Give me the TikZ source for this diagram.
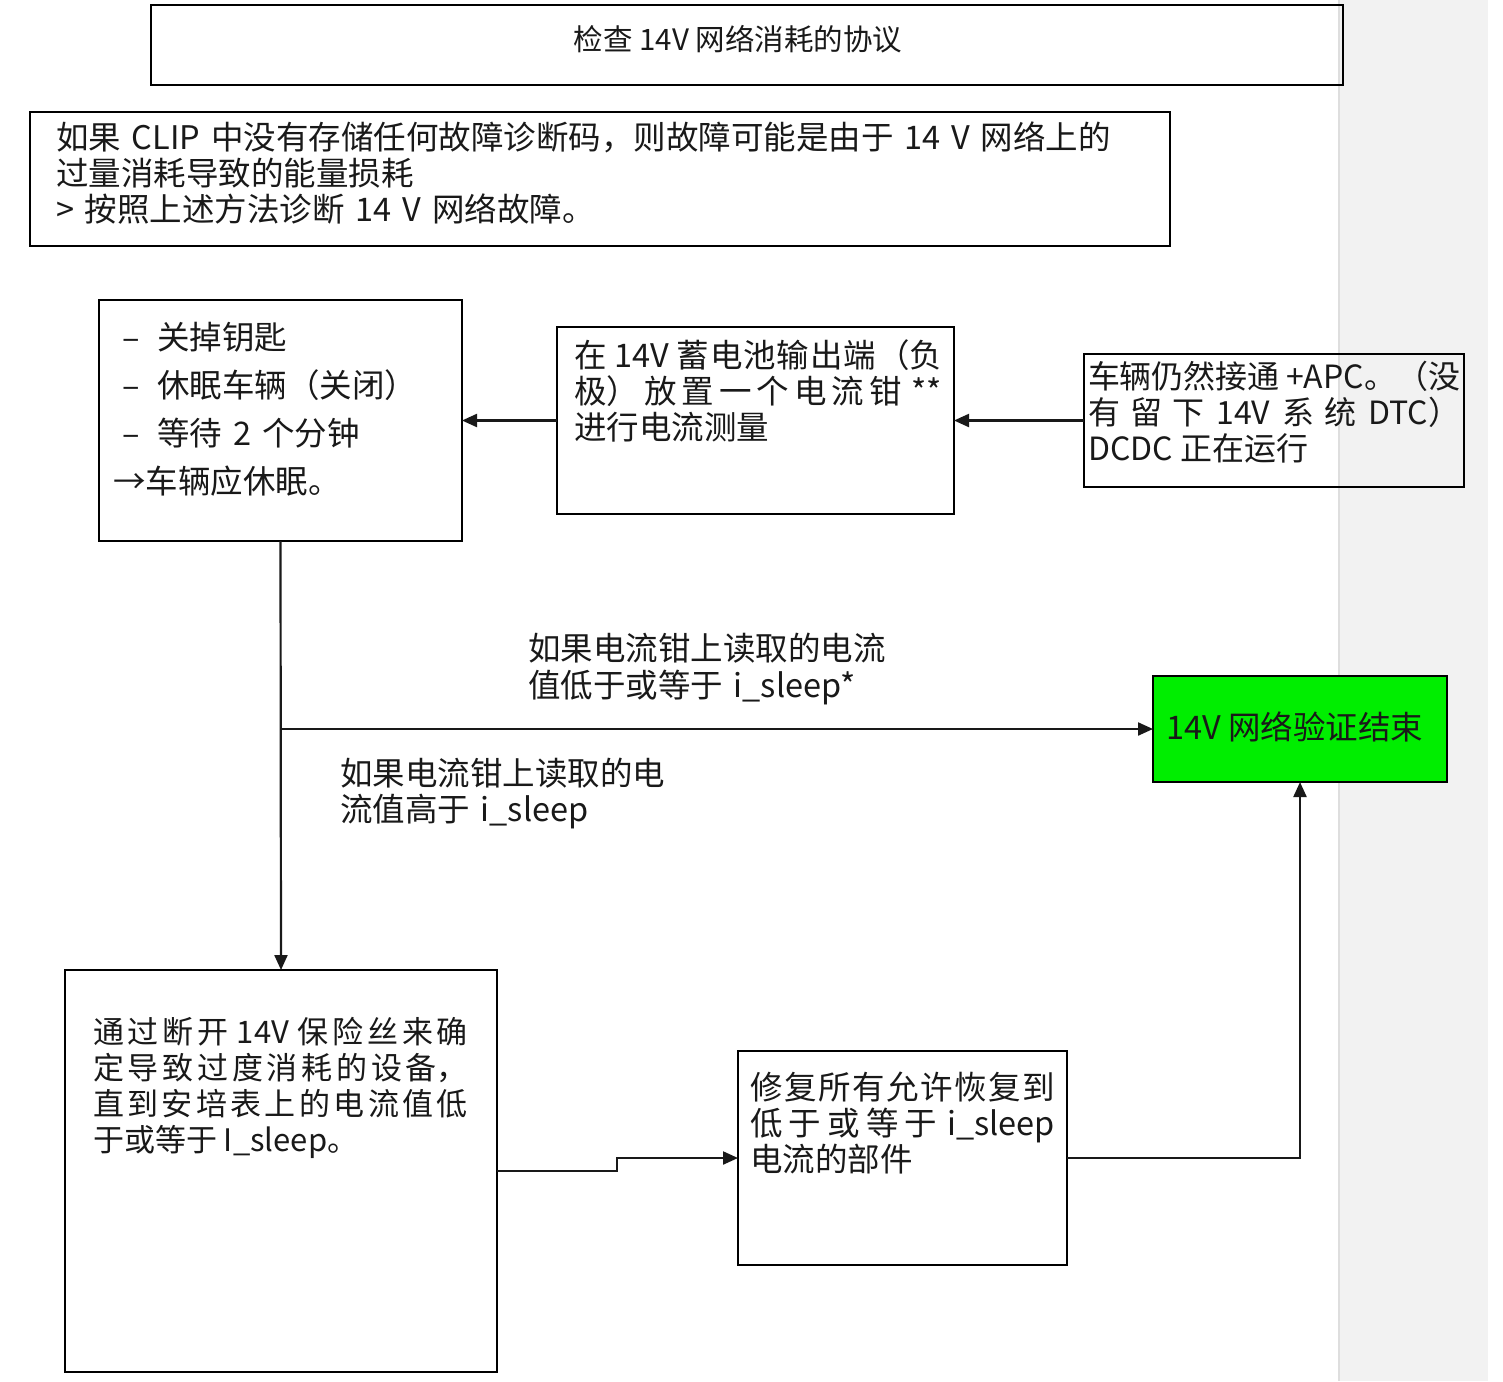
\documentclass[tikz,border=0pt]{standalone}
\usepackage{fontspec}
\setmainfont{Noto Sans CJK SC}
\usetikzlibrary{arrows.meta}
\XeTeXlinebreaklocale "zh"
\XeTeXlinebreakskip=0pt plus 8pt minus 1pt
\XeTeXlinebreakpenalty=10000
\setlength{\parindent}{0pt}
\definecolor{okgreen}{RGB}{0,238,0}
\definecolor{stripgrey}{RGB}{242,242,242}
\definecolor{stripline}{RGB}{222,222,222}
\definecolor{ink}{RGB}{25,25,25}
\begin{document}
\begin{tikzpicture}[x=1pt,y=-1pt,
  box/.style={draw=black, line width=2.5pt, anchor=north west, inner sep=0pt, outer sep=0pt},
  conn/.style={draw=black!90, line width=2.2pt, -{Triangle[length=15pt,width=13pt]}},
  ftxt/.style={anchor=base west, inner sep=0pt, outer sep=0pt, text=ink, font=\fontsize{32.5pt}{36pt}\selectfont},
  ltxt/.style={ftxt, align=left},
  jtxt/.style={ftxt, align=justify}
]
\useasboundingbox (0,0) rectangle (1503,1381);
% grey strip on the right
\fill[stripgrey] (1340,0) rectangle (1488,1381);
\draw[stripline, line width=2pt] (1339,0) -- (1339,1381);

% boxes
\node[box, minimum width=1192, minimum height=80] (T) at (151,5) {};
\node[box, minimum width=1140, minimum height=134] (I) at (30,112) {};
\node[box, minimum width=363, minimum height=241] (A) at (99,300) {};
\node[box, minimum width=397, minimum height=187] (B) at (557,327) {};
\node[box, minimum width=380, minimum height=133] (C) at (1084,354) {};
\node[box, fill=okgreen, minimum width=294, minimum height=106] (G) at (1153,676) {};
\node[box, minimum width=432, minimum height=402] (D) at (65,970) {};
\node[box, minimum width=329, minimum height=214] (E) at (738,1051) {};

% texts
\node[anchor=base, inner sep=0pt, text=ink, font=\fontsize{29.5pt}{34pt}\selectfont] (tt) at (738,51) {检查 14V 网络消耗的协议};
\node[ltxt, text width=1110pt] (it) at (56,149) {如果 CLIP 中没有存储任何故障诊断码，则故障可能是由于 14 V 网络上的\\过量消耗导致的能量损耗\\> 按照上述方法诊断 14 V 网络故障。};
\node[ltxt, text width=345pt, font=\fontsize{32.5pt}{48pt}\selectfont] (at) at (113,349) {\hspace*{9pt}–\hspace{18pt}关掉钥匙\\\hspace*{9pt}–\hspace{18pt}休眠车辆（关闭）\\\hspace*{9pt}–\hspace{18pt}等待 2 个分钟\\→车辆应休眠。};
\node[jtxt, text width=368pt] (bt) at (574,367) {在~14V~蓄电池输出端（负\linebreak 极）放置一个电流钳~**\linebreak 进行电流测量};
\node[jtxt, text width=372pt, font=\fontsize{32pt}{36pt}\selectfont] (ct) at (1088,388) {车辆仍然接通~+APC。（没\linebreak 有留下~14V~系统~DTC）\linebreak DCDC~正在运行};
\node[ftxt] (gt) at (1166,739) {14V 网络验证结束};
\node[jtxt, text width=375pt, font=\fontsize{31pt}{36pt}\selectfont] (dt) at (93,1043) {通过断开~14V~保险丝来确\linebreak 定导致过度消耗的设备，\linebreak 直到安培表上的电流值低\linebreak 于或等于~I\_sleep。};
\node[jtxt, text width=305pt] (et) at (750,1099) {修复所有允许恢复到\linebreak 低于或等于~i\_sleep\linebreak 电流的部件};
\node[ltxt, text width=420pt, font=\fontsize{32.5pt}{37pt}\selectfont] (l1) at (528,660) {如果电流钳上读取的电流\\值低于或等于 i\_sleep*};
\node[ltxt, text width=420pt] (l2) at (340,785) {如果电流钳上读取的电\\流值高于 i\_sleep};

% connectors
\draw[conn] (C.west) -- (B.east);
\draw[conn] (B.west) -- (A.east);
\draw[conn] (A.south) -- (D.north);
\coordinate (J) at (A.south |- G.west);
\draw[conn] (J) -- (G.west);
\draw[conn] (D.east) -- ++(120,0) |- (E.west);
\draw[conn] (E.east) -| (G.south);
\end{tikzpicture}
\end{document}
